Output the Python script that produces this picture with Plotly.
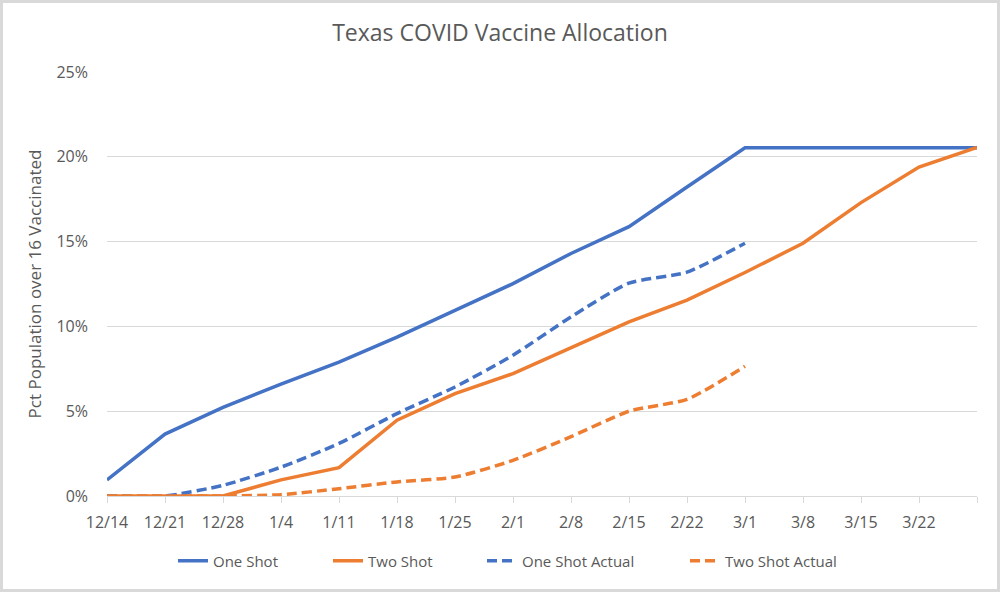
import plotly.graph_objects as go

dates = ["2020-12-14", "2020-12-21", "2020-12-28", "2021-01-04", "2021-01-11", "2021-01-18",
         "2021-01-25", "2021-02-01", "2021-02-08", "2021-02-15", "2021-02-22", "2021-03-01",
         "2021-03-08", "2021-03-15", "2021-03-22", "2021-03-29"]
tick_labels = ["12/14", "12/21", "12/28", "1/4", "1/11", "1/18", "1/25", "2/1", "2/8",
               "2/15", "2/22", "3/1", "3/8", "3/15", "3/22", ""]

one_shot = [0.0095, 0.0365, 0.0523, 0.0660, 0.0790, 0.0937, 0.1095, 0.1252, 0.1430,
            0.1588, 0.1822, 0.2053, 0.2053, 0.2053, 0.2053, 0.2053]
two_shot = [0.0, 0.0, 0.0, 0.0095, 0.0167, 0.0447, 0.0604, 0.0722, 0.0872, 0.1027,
            0.1155, 0.1318, 0.1490, 0.1730, 0.1940, 0.2055]
one_shot_actual = [0.0, 0.0, 0.0063, 0.0170, 0.0310, 0.0486, 0.0643, 0.0830, 0.1056,
                   0.1255, 0.1320, 0.1490, None, None, None, None]
two_shot_actual = [0.0, 0.0, 0.0, 0.0008, 0.0043, 0.0083, 0.0112, 0.0210, 0.0350,
                   0.0500, 0.0570, 0.0765, None, None, None, None]

BLUE = "#4472C4"
ORANGE = "#ED7D31"
GRID = "#D9D9D9"
TXT = "#595959"
FONT = "Open Sans"

L, R, T, B = 107, 23, 72, 96
W, H = 1000, 592
pw, ph = W - L - R, H - T - B

series = [
    ("One Shot", one_shot, BLUE, "solid", "linear", "legend", 178),
    ("Two Shot", two_shot, ORANGE, "solid", "linear", "legend2", 333),
    ("One Shot Actual", one_shot_actual, BLUE, "10px,5px", "spline", "legend3", 487),
    ("Two Shot Actual", two_shot_actual, ORANGE, "10px,5px", "spline", "legend4", 690),
]

fig = go.Figure()
legends = {}
for name, vals, color, dash, shape, lg, lx in series:
    line = dict(color=color, width=3.5, dash=dash, shape=shape)
    if shape == "spline":
        line["smoothing"] = 0.6
    fig.add_trace(go.Scatter(x=dates, y=vals, name=name, mode="lines", line=line,
                             legend=lg, showlegend=True))
    legends[lg] = dict(orientation="h", x=(lx - 5 - L) / pw, xanchor="left",
                       y=-(561 - (T + ph)) / ph, yanchor="middle",
                       font=dict(size=15, color=TXT, family=FONT),
                       bgcolor="rgba(0,0,0,0)")

fig.update_layout(
    width=W, height=H,
    margin=dict(l=L, r=R, t=T, b=B),
    paper_bgcolor="white", plot_bgcolor="white",
    font=dict(family=FONT, color=TXT, size=15),
    title=dict(text="Texas COVID Vaccine Allocation", x=0.5, xanchor="center",
               y=1 - 33 / H, yanchor="middle", font=dict(size=23, color=TXT, family=FONT)),
    xaxis=dict(type="date", range=[dates[0], dates[-1]], tickmode="array",
               tickvals=dates, ticktext=tick_labels, showgrid=False,
               showline=True, linecolor=GRID, linewidth=1, ticks="outside",
               ticklen=6, tickcolor=GRID, tickfont=dict(size=16, color=TXT),
               ticklabelstandoff=6, zeroline=False),
    yaxis=dict(range=[0, 0.25], tickmode="linear", tick0=0, dtick=0.05, tickformat=".0%",
               showgrid=True, gridcolor=GRID, gridwidth=1, zeroline=False,
               showline=False, ticks="", tickfont=dict(size=16, color=TXT),
               ticklabelstandoff=18,
               title=dict(text="Pct Population over 16 Vaccinated", standoff=10,
                          font=dict(size=17, color=TXT))),
    **legends,
)

fig.add_shape(type="rect", xref="paper", yref="paper",
              x0=-(L - 1.5) / pw, x1=(W - L - 1.5) / pw,
              y0=-(B - 1.5) / ph, y1=(H - B - 1.5) / ph,
              line=dict(color=GRID, width=3), layer="below")

fig.write_html("out.html", config={"displayModeBar": False},
               post_script="document.body.style.margin='0';document.body.style.overflow='hidden';")
